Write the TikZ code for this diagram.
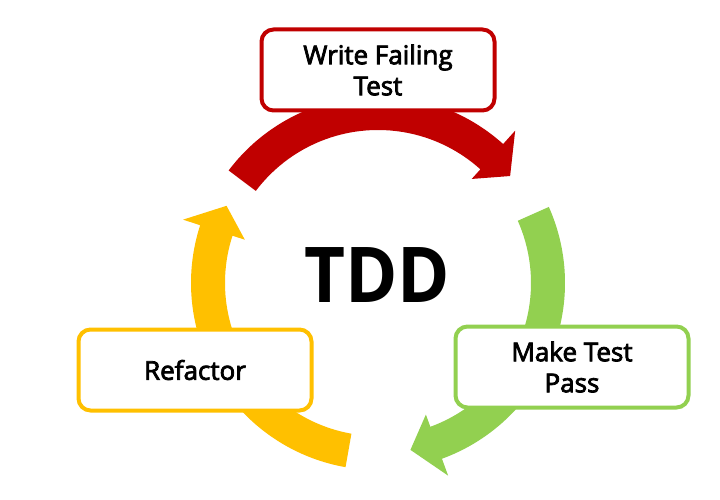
\documentclass[tikz,border=0pt]{standalone}
\usepackage{fontspec}
\setmainfont{Open Sans}
\newfontfamily\boxfont[FakeBold=3]{Open Sans}
\newfontfamily\tddfont[FakeStretch=0.92]{Open Sans}
\definecolor{tddred}{HTML}{C00000}
\definecolor{tddgreen}{HTML}{92D050}
\definecolor{tddyellow}{HTML}{FFC000}
\tikzset{
    stepbox/.style={draw=#1, line width=4pt, fill=white, rounded corners=12pt,
        minimum width=233pt, minimum height=81pt, align=center,
        font=\boxfont\fontsize{26}{31}\selectfont},
}
\begin{document}
\begin{tikzpicture}[x=1pt, y=1pt]
    \useasboundingbox (0,0) rectangle (720,499);
    \coordinate (c) at (378,216);
    % the three bent arrows of the cycle
    \foreach \s/\e/\arrowcol in {143/48/tddred, 24/-70/tddgreen, 260/162/tddyellow}
    {
        \pgfmathsetmacro{\tip}{\e-9}
        \fill[\arrowcol, shift={(c)}] (\s:187) arc[start angle=\s, end angle=\e, radius=187]
            -- (\e:205) -- (\tip:170) -- (\e:140) -- (\e:153)
            arc[start angle=\e, end angle=\s, radius=153] -- cycle;
    }
    \node[stepbox=tddred] (write) at (378,429) {Write Failing\\Test};
    \node[stepbox=tddgreen] (pass) at (572,132) {Make Test\\Pass};
    \node[stepbox=tddyellow] (refactor) at (195,129) {Refactor};
    \node[font=\tddfont\fontsize{77}{77}\selectfont\bfseries, anchor=base] (tdd) at (377.5,197) {TDD};
\end{tikzpicture}
\end{document}
